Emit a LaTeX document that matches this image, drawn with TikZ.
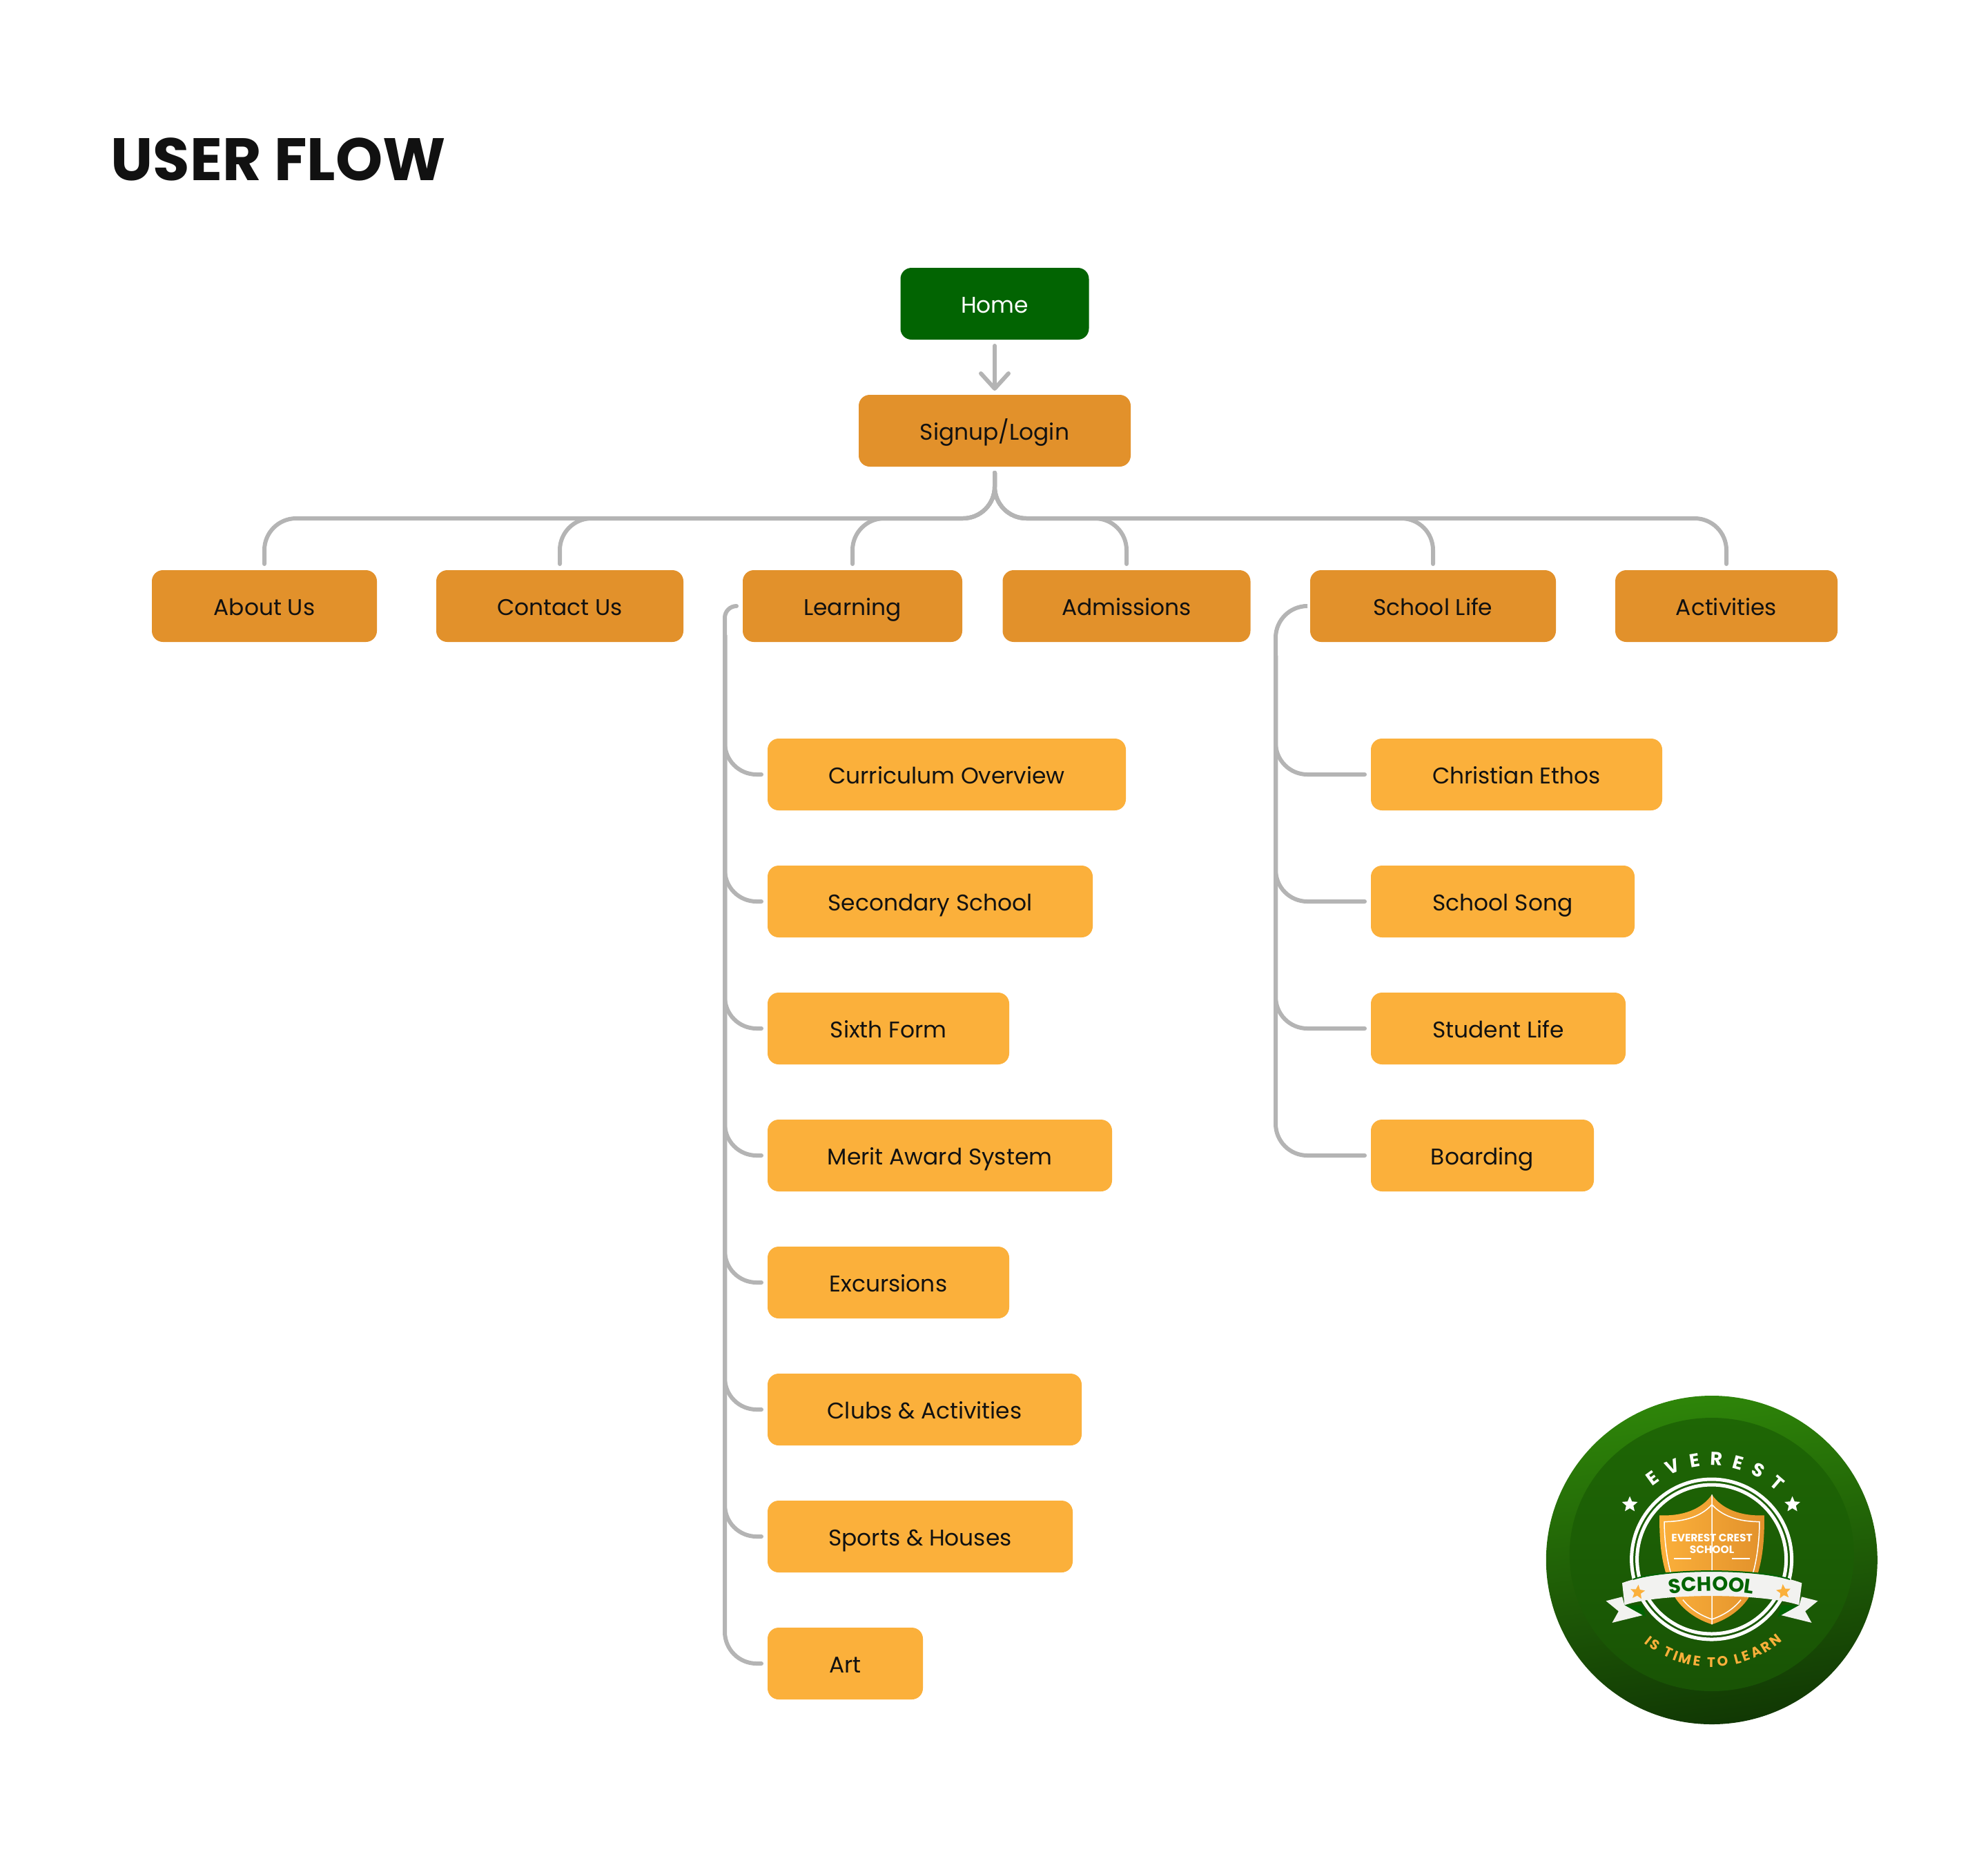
\documentclass[tikz,border=0pt]{standalone}
\usepackage{fontspec}
\setmainfont{Poppins}
\usetikzlibrary{arrows.meta,positioning,calc,shapes.geometric,decorations.text}
\definecolor{homeFill}{HTML}{026402}
\definecolor{pageFill}{HTML}{E2912B}
\definecolor{subFill}{HTML}{FBB03B}
\definecolor{linkDraw}{HTML}{B4B4B4}
\definecolor{inkDraw}{HTML}{111111}
\definecolor{badgeTop}{HTML}{2E8509}
\definecolor{badgeMid}{HTML}{1E6605}
\definecolor{badgeLow}{HTML}{113804}
\definecolor{ribbonFill}{HTML}{F2F2F0}
\tikzset{
  box/.style   ={rounded corners=1.6mm, align=center, minimum height=10.4mm, inner sep=0pt, outer sep=0pt,
                 text height=2.6mm, text depth=0pt, text=inkDraw, font=\fontsize{9.35pt}{12pt}\selectfont},
  home/.style  ={box, fill=homeFill, text=white},
  page/.style  ={box, fill=pageFill},
  sub/.style   ={box, fill=subFill, anchor=north west},
  under/.style ={below=8mm of #1.south west, anchor=north west},
  link/.style  ={draw=linkDraw, line width=0.6mm, line cap=round, shorten <=0.9mm, shorten >=0.9mm},
  branch/.style={link, rounded corners=4.6mm},
  hook/.style  ={link, shorten >=0pt},
  arr/.style   ={link, shorten >=0.6mm, -{Straight Barb[length=2.2mm, width=4mm, round]}},
  badgetext/.style={inner sep=0pt, text=white, font=\fontsize{4.4pt}{5pt}\selectfont\bfseries},
  whitestar/.style={star, star points=5, star point ratio=2.2, fill=white, inner sep=0pt, minimum size=2.4mm},
  goldstar/.style ={whitestar, fill=subFill, minimum size=2.2mm},
}
\newcommand{\crestfont}{\fontsize{7.7pt}{9pt}\selectfont\bfseries\color{white}}
\newcommand{\mottofont}{\fontsize{5.7pt}{7pt}\selectfont\bfseries\color{subFill}}
\newcommand{\bandfont}{\fontsize{8.3pt}{9pt}\selectfont\bfseries\color{homeFill}}

\begin{document}
\begin{tikzpicture}
  \useasboundingbox (0,0) rectangle (28.8,-26.98);
  \node[anchor=base west, inner sep=0pt, text=inkDraw, font=\fontsize{24.7pt}{30pt}\selectfont\bfseries] (title) at (1.6,-2.61) {USER FLOW};

  % main pages
  \node[home, minimum width=27.3mm] (home) at (14.41,-4.4) {Home};
  \node[page, minimum width=39.4mm, below=8mm of home] (signup) {Signup/Login};
  \node[page, minimum width=32.6mm] (about)      at (3.83,-8.78)   {About Us};
  \node[page, minimum width=35.8mm] (contact)    at (8.11,-8.78)   {Contact Us};
  \node[page, minimum width=31.8mm] (learning)   at (12.35,-8.78)  {Learning};
  \node[page, minimum width=35.9mm] (admissions) at (16.32,-8.78)  {Admissions};
  \node[page, minimum width=35.6mm] (school)     at (20.76,-8.78)  {School Life};
  \node[page, minimum width=32.2mm] (activities) at (25.01,-8.78)  {Activities};

  % learning pages
  \node[sub, minimum width=51.9mm] (curriculum) at (11.12,-10.7) {Curriculum Overview};
  \node[sub, minimum width=47.1mm, under=curriculum] (secondary) {Secondary School};
  \node[sub, minimum width=35mm,   under=secondary]  (sixth)     {Sixth Form};
  \node[sub, minimum width=49.9mm, under=sixth]      (merit)     {Merit Award System};
  \node[sub, minimum width=35mm,   under=merit]      (excursions){Excursions};
  \node[sub, minimum width=45.5mm, under=excursions] (clubs)     {Clubs \& Activities};
  \node[sub, minimum width=44.2mm, under=clubs]      (sports)    {Sports \& Houses};
  \node[sub, minimum width=22.5mm, under=sports]     (art)       {Art};

  % school life pages
  \node[sub, minimum width=42.2mm] (ethos) at (19.86,-10.7) {Christian Ethos};
  \node[sub, minimum width=38.2mm, under=ethos] (song)    {School Song};
  \node[sub, minimum width=36.9mm, under=song]  (student) {Student Life};
  \node[sub, minimum width=32.3mm, under=student] (boarding) {Boarding};

  % home to signup, then the bus to the main pages
  \draw[arr] (home) -- (signup);
  \coordinate (bus) at (14.41,-7.51);
  \draw[branch] (signup.south) -- (bus) -| (about.north);
  \draw[branch] (signup.south) -- (bus) -| (contact.north);
  \draw[branch] (signup.south) -- (bus) -| (learning.north);
  \draw[branch] (signup.south) -- (bus) -| (admissions.north);
  \draw[branch] (signup.south) -- (bus) -| (school.north);
  \draw[branch] (signup.south) -- (bus) -| (activities.north);

  % trunk beside learning
  \coordinate (ltrunk) at (10.5,-9.2);
  \draw[hook, rounded corners=1.7mm] (learning.west) -| (ltrunk);
  \draw[branch, shorten <=0pt] (ltrunk) |- (curriculum.west);
  \draw[branch, shorten <=0pt] (ltrunk) |- (secondary.west);
  \draw[branch, shorten <=0pt] (ltrunk) |- (sixth.west);
  \draw[branch, shorten <=0pt] (ltrunk) |- (merit.west);
  \draw[branch, shorten <=0pt] (ltrunk) |- (excursions.west);
  \draw[branch, shorten <=0pt] (ltrunk) |- (clubs.west);
  \draw[branch, shorten <=0pt] (ltrunk) |- (sports.west);
  \draw[branch, shorten <=0pt] (ltrunk) |- (art.west);

  % trunk beside school life
  \coordinate (strunk) at (18.48,-9.5);
  \draw[hook, rounded corners=4.6mm] (school.west) -| (strunk);
  \draw[branch, shorten <=0pt] (strunk) |- (ethos.west);
  \draw[branch, shorten <=0pt] (strunk) |- (song.west);
  \draw[branch, shorten <=0pt] (strunk) |- (student.west);
  \draw[branch, shorten <=0pt] (strunk) |- (boarding.west);

  % badge
  \coordinate (badge) at (24.796,-22.59);
  \shade[top color=badgeTop, middle color=badgeMid, bottom color=badgeLow, shading angle=8]
    (24.798,-22.6) ellipse [x radius=2.4, y radius=2.38];
  \shade[top color=badgeMid, middle color=badgeMid, bottom color=badgeLow!40!badgeMid]
    (24.798,-22.52) ellipse [x radius=2.06, y radius=1.98];
  \draw[white, line width=0.5mm] (badge) circle [radius=1.16];
  \draw[white, line width=0.5mm] (badge) circle [radius=1.08];
  \path[decorate, decoration={text along path, text align={fit to path}, text={|\crestfont|E V E R E S T}}]
    ([shift={(129:1.36)}]badge) arc [start angle=129, end angle=46, radius=1.36];
  \path[decorate, decoration={text along path, text align={fit to path}, text={|\mottofont|IS TIME TO LEARN}}]
    ([shift={(231:1.56)}]badge) arc [start angle=231, end angle=311, radius=1.56];

  \begin{scope}[shift={(22,-20)}, x=0.0034439cm, y=-0.0033333cm]
    % shield
    \shade[left color=subFill, right color=pageFill]
      (812,497) .. controls (770,560) and (690,592) .. (592,587)
      .. controls (590,750) and (610,840) .. (660,950)
      .. controls (700,1010) and (760,1045) .. (812,1062)
      .. controls (864,1045) and (924,1010) .. (964,950)
      .. controls (1014,840) and (1034,750) .. (1032,587)
      .. controls (934,592) and (854,560) .. (812,497) -- cycle;
    \draw[white, line width=0.15mm]
      (812,540) .. controls (770,590) and (700,615) .. (612,615) .. controls (612,700) and (625,790) .. (640,840)
      (812,540) .. controls (854,590) and (924,615) .. (1012,615) .. controls (1012,700) and (999,790) .. (984,840)
      (690,955) .. controls (725,1000) and (770,1025) .. (812,1040) .. controls (854,1025) and (899,1000) .. (934,955)
      (812,497) -- (812,1062);
    \node[badgetext] (crestname)  at (812,685) {EVEREST CREST};
    \node[badgetext] (crestnamea) at (812,738) {SCHOOL};
    \draw[white, line width=0.25mm] (653,776) -- (725,776) (897,776) -- (970,776);
    % ribbon
    \fill[ribbonFill] (367,960) -- (435,942) -- (445,978) -- (522,1022) -- (393,1055) -- (420,1005) -- cycle;
    \fill[ribbonFill] (1257,960) -- (1189,942) -- (1179,978) -- (1102,1022) -- (1231,1055) -- (1204,1005) -- cycle;
    \fill[homeFill] (445,978) -- (535,1030) -- (520,978) -- cycle;
    \fill[homeFill] (1179,978) -- (1089,1030) -- (1104,978) -- cycle;
    \fill[ribbonFill] (435,882) .. controls (600,815) and (1020,815) .. (1190,882)
      -- (1178,978) .. controls (1020,925) and (600,925) .. (445,978) -- cycle;
    \draw[homeFill, line width=0.2mm] (480,866) .. controls (620,818) and (1000,818) .. (1140,866);
    \path[decorate, decoration={text along path, text align=center, text={|\bandfont|SCHOOL}}]
      (600,936) .. controls (740,910) and (880,910) .. (1020,936);
    \node[whitestar] (stara) at (467,540) {};
    \node[whitestar] (starb) at (1150,540) {};
    \node[goldstar, rotate=-6] (starc) at (500,922) {};
    \node[goldstar, rotate=6]  (stard) at (1113,920) {};
  \end{scope}
\end{tikzpicture}
\end{document}
